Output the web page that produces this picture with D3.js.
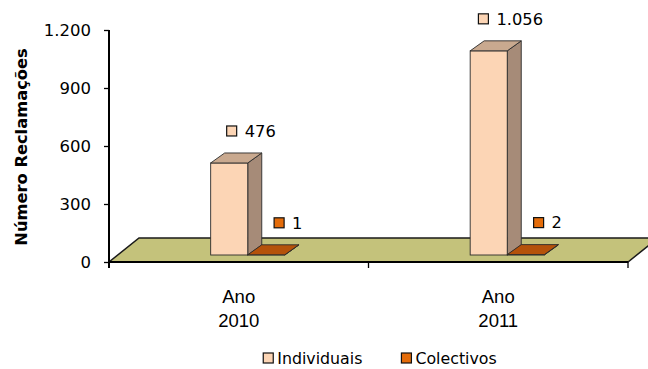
<!DOCTYPE html>
<html>
<head>
<meta charset="utf-8">
<script src="https://cdn.jsdelivr.net/npm/d3@7"></script>
<style>
  html, body { margin: 0; padding: 0; background: #fff; }
  svg { display: block; }
</style>
</head>
<body>
<svg id="chart" width="648" height="369"></svg>
<script>
// Reclamações por tipo e ano
const years = ["2010", "2011"];
const categoryPrefix = "Ano";
const seriesNames = ["Individuais", "Colectivos"];
const individuais = [476, 1056];
const colectivos = [1, 2];
const yTicks = [0, 300, 600, 900, 1200];
const yTitle = "Número Reclamações";

const seriesValues = [individuais, colectivos];

// Face colours for each series: front, top, side
const palette = {
  Individuais: { front: "#fcd5b5", top: "#c9a98f", side: "#a68b78" },
  Colectivos:  { front: "#e46c0a", top: "#b5520a", side: "#8a3f05" }
};

const pt = d3.formatLocale({ decimal: ",", thousands: ".", grouping: [3], currency: ["", " €"] });
const fmt = pt.format(",");

const svg = d3.select("#chart");

// Plot frame
const plotLeft = 109, plotRight = 628, plotBottom = 262, plotTop = 30;
const floorDepth = { dx: 30, dy: -24 };
const barShift = { dx: 9, dy: -7 };   // bars sit part way back on the floor
const barDepth = { dx: 14, dy: -10 };

const x = d3.scaleBand().domain(years).range([plotLeft, plotRight]);
const inner = d3.scaleBand().domain(seriesNames).range([0, x.bandwidth()])
  .paddingInner(0).paddingOuter(2.5);
const y = d3.scaleLinear().domain([0, 1200]).range([plotBottom, plotTop]);

// Floor
const floorPts = [
  [plotLeft, plotBottom], [plotRight, plotBottom],
  [plotRight + floorDepth.dx, plotBottom + floorDepth.dy],
  [plotLeft + floorDepth.dx, plotBottom + floorDepth.dy]
];
svg.append("polygon")
  .attr("points", floorPts.map(p => p.join(",")).join(" "))
  .attr("fill", "#c4c27b")
  .attr("stroke", "#1a1a1a")
  .attr("stroke-width", 1.5);

// Category axis: front edge of floor with ticks at category boundaries
svg.append("line")
  .attr("x1", plotLeft).attr("x2", plotRight)
  .attr("y1", plotBottom).attr("y2", plotBottom)
  .attr("stroke", "#000").attr("stroke-width", 1.8);
const bounds = years.map(d => x(d)).concat([plotRight]);
svg.append("g").selectAll("line").data(bounds).join("line")
  .attr("x1", d => d).attr("x2", d => d)
  .attr("y1", plotBottom).attr("y2", plotBottom + 6)
  .attr("stroke", "#000").attr("stroke-width", 1.3);

const catLabels = svg.append("g").selectAll("text").data(years).join("text")
  .attr("x", d => x(d) + x.bandwidth() / 2)
  .attr("text-anchor", "middle")
  .attr("font-family", "'Liberation Sans', Arial, sans-serif")
  .attr("font-size", 18.5)
  .attr("fill", "#000");
catLabels.append("tspan").attr("x", d => x(d) + x.bandwidth() / 2).attr("y", 303).text(categoryPrefix);
catLabels.append("tspan").attr("x", d => x(d) + x.bandwidth() / 2).attr("y", 327).text(d => d);

// Value axis
const yAxis = d3.axisLeft(y).tickValues(yTicks).tickFormat(fmt).tickSize(5).tickSizeOuter(0).tickPadding(13);
const gy = svg.append("g").attr("transform", `translate(${plotLeft},0)`).call(yAxis);
gy.select(".domain").remove();
gy.selectAll(".tick line").attr("stroke", "#000").attr("stroke-width", 1.3);
gy.selectAll(".tick text")
  .attr("font-family", "'DejaVu Sans', sans-serif")
  .attr("font-size", 16.5)
  .attr("fill", "#000");
svg.append("line")
  .attr("x1", plotLeft).attr("x2", plotLeft)
  .attr("y1", plotTop).attr("y2", plotBottom + 6)
  .attr("stroke", "#000").attr("stroke-width", 2);

svg.append("text")
  .attr("transform", `translate(27,${(plotTop + plotBottom) / 2 + 1}) rotate(-90)`)
  .attr("text-anchor", "middle")
  .attr("font-family", "'DejaVu Sans', sans-serif")
  .attr("font-weight", "bold")
  .attr("font-size", 16.3)
  .attr("fill", "#000")
  .text(yTitle);

// 3D bars
const bars = [];
years.forEach((yr, i) => {
  seriesNames.forEach((s, j) => {
    const v = seriesValues[j][i];
    const x0 = x(yr) + inner(s) + barShift.dx;
    const w = inner.bandwidth();
    const yb = y(0) + barShift.dy;
    const yt = y(v) + barShift.dy;
    bars.push({ yr, s, v, x0, w, yb, yt });
  });
});

const poly = pts => pts.map(p => p.join(",")).join(" ");
const gBars = svg.append("g");
bars.forEach(b => {
  const c = palette[b.s];
  const g = gBars.append("g");
  const dx = barDepth.dx, dy = barDepth.dy;
  // side face
  g.append("polygon")
    .attr("points", poly([[b.x0 + b.w, b.yt], [b.x0 + b.w + dx, b.yt + dy], [b.x0 + b.w + dx, b.yb + dy], [b.x0 + b.w, b.yb]]))
    .attr("fill", c.side).attr("stroke", "#2b2b2b").attr("stroke-width", 0.9).attr("stroke-linejoin", "round");
  // front face
  g.append("rect")
    .attr("x", b.x0).attr("y", b.yt).attr("width", b.w).attr("height", Math.max(0, b.yb - b.yt))
    .attr("fill", c.front).attr("stroke", "#2b2b2b").attr("stroke-width", 0.9);
  // top face
  g.append("polygon")
    .attr("points", poly([[b.x0, b.yt], [b.x0 + b.w, b.yt], [b.x0 + b.w + dx, b.yt + dy], [b.x0 + dx, b.yt + dy]]))
    .attr("fill", c.top).attr("stroke", "#2b2b2b").attr("stroke-width", 0.9).attr("stroke-linejoin", "round");
});

// Data labels with series key
const gLabels = svg.append("g")
  .attr("font-family", "'DejaVu Sans', sans-serif")
  .attr("font-size", 16.3)
  .attr("fill", "#000");
bars.forEach(b => {
  const g = gLabels.append("g");
  g.append("rect")
    .attr("x", 0).attr("y", -5).attr("width", 10).attr("height", 10)
    .attr("fill", palette[b.s].front).attr("stroke", "#111").attr("stroke-width", 1.2);
  const t = g.append("text").attr("x", 18).attr("y", 0).attr("dy", "0.36em").text(fmt(b.v));
  const total = 18 + t.node().getComputedTextLength();
  const cx = b.x0 + b.w / 2 + 22;
  const cy = b.yt - 32;
  g.attr("transform", `translate(${cx - total / 2},${cy})`);
});

// Legend
const legend = svg.append("g")
  .attr("font-family", "'DejaVu Sans', sans-serif")
  .attr("font-size", 15.8)
  .attr("fill", "#000");
let lx = 0;
seriesNames.forEach((s, i) => {
  const g = legend.append("g");
  g.append("rect").attr("x", 0).attr("y", -5).attr("width", 10).attr("height", 10)
    .attr("fill", palette[s].front).attr("stroke", "#111").attr("stroke-width", 1.2);
  const t = g.append("text").attr("x", 14).attr("y", 0).attr("dy", "0.36em").text(s);
  const w = 14 + t.node().getComputedTextLength();
  g.attr("transform", `translate(${lx},0)`);
  lx += w + (i < seriesNames.length - 1 ? 39 : 0);
});
legend.attr("transform", `translate(${380 - lx / 2},358)`);
</script>
</body>
</html>
